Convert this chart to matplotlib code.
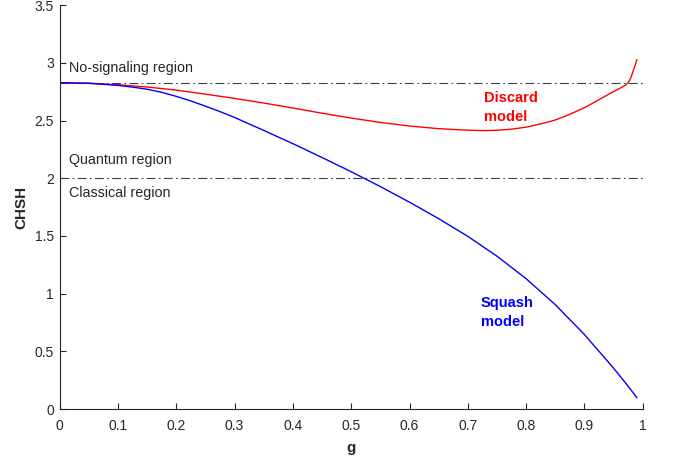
import matplotlib
matplotlib.use("Agg")
import matplotlib.pyplot as plt
import numpy as np

# Data
g_discard = [0.0, 0.05, 0.10, 0.15, 0.20, 0.25, 0.30, 0.35, 0.40, 0.45, 0.50, 0.55, 0.60,
             0.65, 0.70, 0.726, 0.75, 0.775, 0.80, 0.832, 0.85, 0.875, 0.90, 0.92, 0.94,
             0.95, 0.96, 0.97, 0.975, 0.9775, 0.98, 0.985, 0.99]
discard = [2.828, 2.824, 2.811, 2.791, 2.764, 2.729, 2.692, 2.652, 2.609, 2.564, 2.522,
           2.484, 2.453, 2.430, 2.417, 2.413, 2.416, 2.426, 2.443, 2.48, 2.505, 2.555,
           2.612, 2.667, 2.724, 2.752, 2.778, 2.806, 2.828, 2.849, 2.877, 2.95, 3.027]
g_squash = [0.0, 0.05, 0.10, 0.125, 0.15, 0.175, 0.20, 0.225, 0.25, 0.275, 0.30, 0.35,
            0.40, 0.45, 0.50, 0.55, 0.60, 0.65, 0.70, 0.75, 0.80, 0.85, 0.90, 0.95,
            0.97, 0.99]
squash = [2.828, 2.823, 2.805, 2.79, 2.772, 2.745, 2.71, 2.67, 2.625, 2.578, 2.527, 2.415,
          2.30, 2.18, 2.057, 1.928, 1.793, 1.650, 1.497, 1.325, 1.13, 0.905, 0.646, 0.355,
          0.229, 0.10]
no_signaling = 2 * np.sqrt(2)
classical = 2.0

xticks = [0, 0.1, 0.2, 0.3, 0.4, 0.5, 0.6, 0.7, 0.8, 0.9, 1]
xticklabels = ["0", "0.1", "0.2", "0.3", "0.4", "0.5", "0.6", "0.7", "0.8", "0.9", "1"]
yticks = [0, 0.5, 1, 1.5, 2, 2.5, 3, 3.5]
yticklabels = ["0", "0.5", "1", "1.5", "2", "2.5", "3", "3.5"]

plt.rcParams['font.family'] = ['Liberation Sans', 'DejaVu Sans']

fig = plt.figure(figsize=(6.78, 4.59), dpi=100)
ax = fig.add_axes([0.088, 0.1087, 0.86, 0.88])

ax.axhline(no_signaling, color='#404040', lw=0.8, ls=(0, (8, 3, 1.5, 3)))
ax.axhline(classical, color='#404040', lw=0.8, ls=(0, (8, 3, 1.5, 3)))
ax.plot(g_discard, discard, color='#ff0000', lw=1.0)
ax.plot(g_squash, squash, color='#0000ff', lw=1.0)

ax.set_xlim(0, 1)
ax.set_ylim(0, 3.5)
ax.set_xticks(xticks)
ax.set_xticklabels(xticklabels)
ax.set_yticks(yticks)
ax.set_yticklabels(yticklabels)
ax.tick_params(direction='in', length=4.3, width=0.8, colors='#262626', labelsize=10)
ax.tick_params(axis='x', pad=7)
ax.tick_params(axis='y', pad=4)
for s in ['top', 'right']:
    ax.spines[s].set_visible(False)
for s in ['left', 'bottom']:
    ax.spines[s].set_color('#262626')
    ax.spines[s].set_linewidth(0.8)

ax.set_xlabel('g', fontsize=11, fontweight='bold', color='#262626', labelpad=6)
ax.set_ylabel('CHSH', fontsize=11, fontweight='bold', color='#262626', labelpad=4.5)

ax.text(0.016, 2.96, 'No-signaling region', fontsize=10.3, va='center', color='#262626')
ax.text(0.016, 2.16, 'Quantum region', fontsize=10.3, va='center', color='#262626')
ax.text(0.016, 1.87, 'Classical region', fontsize=10.3, va='center', color='#262626')
ax.text(0.728, 2.61, 'Discard\nmodel', fontsize=10.5, fontweight='bold', color='#ff0000',
        va='center', linespacing=1.45)
ax.text(0.722, 0.838, 'Squash\nmodel', fontsize=10.5, fontweight='bold', color='#0000ff',
        va='center', linespacing=1.45)

fig.savefig('out.png', dpi=100)
